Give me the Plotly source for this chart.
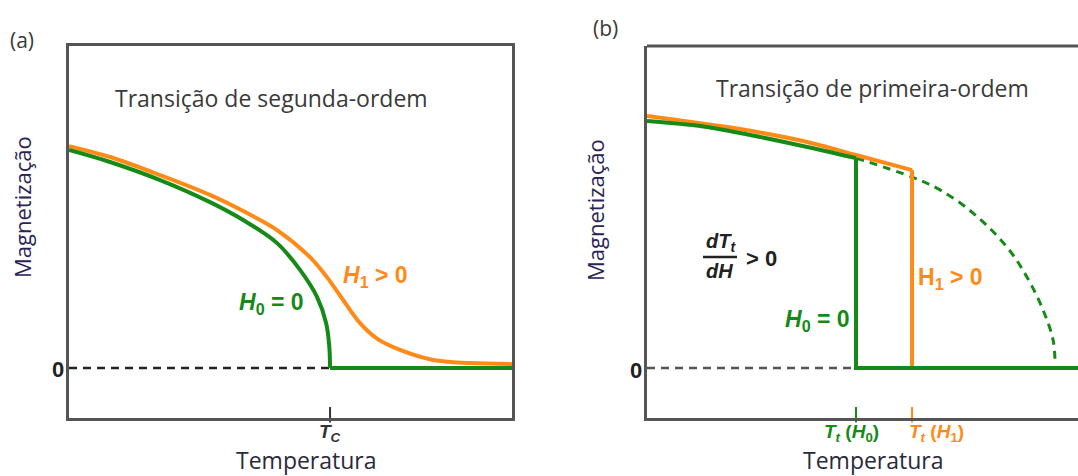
import plotly.graph_objects as go

W, H = 1078, 476

# ---- data: panel (a) second-order transition (T in units of Tc) ----
a_h0_T = [0.0, 0.157, 0.349, 0.540, 0.667, 0.797, 0.885, 0.950, 0.985, 0.997, 1.0]
a_h0_M = [1.0, 0.945, 0.862, 0.761, 0.679, 0.573, 0.450, 0.326, 0.206, 0.100, 0.0]
a_h0_tail_T = [1.0, 1.697]
a_h0_tail_M = [0.0, 0.0]
a_h1_T = [0.0, 0.157, 0.349, 0.540, 0.667, 0.797, 0.923, 0.988, 1.050, 1.115,
          1.180, 1.268, 1.395, 1.536, 1.697]
a_h1_M = [1.018, 0.968, 0.885, 0.794, 0.720, 0.633, 0.509, 0.417, 0.312, 0.206,
          0.135, 0.083, 0.037, 0.023, 0.018]
a_zero_T = [0.0, 1.0]
a_zero_M = [0.0, 0.0]
a_ticks_T = [1.0]

# ---- data: panel (b) first-order transition (T in units of Tt(H0)) ----
b_h0_T = [0.0, 0.254, 0.445, 0.766, 1.0]
b_h0_M = [1.133, 1.110, 1.078, 1.014, 0.963]
b_h0_jump_T = [1.0, 1.0, 2.062]
b_h0_jump_M = [0.963, 0.0, 0.0]
b_h1_T = [0.0, 0.445, 0.766, 1.0, 1.268]
b_h1_M = [1.156, 1.096, 1.037, 0.977, 0.908]
b_h1_jump_T = [1.268, 1.268]
b_h1_jump_M = [0.908, 0.0]
b_meta_T = [1.0, 1.268, 1.402, 1.560, 1.722, 1.818, 1.895, 1.943, 1.952]
b_meta_M = [0.963, 0.876, 0.817, 0.711, 0.555, 0.417, 0.266, 0.128, 0.028]
b_zero_T = [0.0, 1.0]
b_zero_M = [0.0, 0.0]
b_ticks_T = [1.0, 1.268]

GREEN = "#168a16"
ORANGE = "#ff8a17"
FRAME = "#555555"
TXT = "#3a3a3a"
YRANGE = [-0.229, 1.477]
TICK_Y = YRANGE[0] + 0.015  # short marks sit mostly above the bottom edge


def px(x):
    return x / W


def py(y):
    return 1 - y / H


fig = go.Figure()

# panel (a)
fig.add_trace(go.Scatter(x=a_zero_T, y=a_zero_M, mode="lines", xaxis="x", yaxis="y",
                         line=dict(color="#222222", width=2.5, dash="8px,6px")))
fig.add_trace(go.Scatter(x=a_h1_T, y=a_h1_M, mode="lines", xaxis="x", yaxis="y",
                         line=dict(color=ORANGE, width=4, shape="spline", smoothing=1.0)))
fig.add_trace(go.Scatter(x=a_h0_T, y=a_h0_M, mode="lines", xaxis="x", yaxis="y",
                         line=dict(color=GREEN, width=4, shape="spline", smoothing=1.0)))
fig.add_trace(go.Scatter(x=a_h0_tail_T, y=a_h0_tail_M, mode="lines", xaxis="x", yaxis="y",
                         line=dict(color=GREEN, width=4)))
fig.add_trace(go.Scatter(x=a_ticks_T, y=[TICK_Y] * len(a_ticks_T), mode="markers",
                         xaxis="x", yaxis="y", cliponaxis=False,
                         marker=dict(symbol="line-ns", size=11,
                                     line=dict(color="#333333", width=2))))

# panel (b)
fig.add_trace(go.Scatter(x=b_zero_T, y=b_zero_M, mode="lines", xaxis="x2", yaxis="y2",
                         line=dict(color="#555555", width=2.5, dash="8px,6px")))
fig.add_trace(go.Scatter(x=b_meta_T, y=b_meta_M, mode="lines", xaxis="x2", yaxis="y2",
                         line=dict(color=GREEN, width=3, dash="8px,6px",
                                   shape="spline", smoothing=1.0)))
fig.add_trace(go.Scatter(x=b_h1_T, y=b_h1_M, mode="lines", xaxis="x2", yaxis="y2",
                         line=dict(color=ORANGE, width=4, shape="spline", smoothing=0.8)))
fig.add_trace(go.Scatter(x=b_h1_jump_T, y=b_h1_jump_M, mode="lines", xaxis="x2", yaxis="y2",
                         line=dict(color=ORANGE, width=4)))
fig.add_trace(go.Scatter(x=b_h0_T, y=b_h0_M, mode="lines", xaxis="x2", yaxis="y2",
                         line=dict(color=GREEN, width=4, shape="spline", smoothing=0.8)))
fig.add_trace(go.Scatter(x=b_h0_jump_T, y=b_h0_jump_M, mode="lines", xaxis="x2", yaxis="y2",
                         line=dict(color=GREEN, width=4)))
fig.add_trace(go.Scatter(x=b_ticks_T, y=[TICK_Y] * len(b_ticks_T), mode="markers",
                         xaxis="x2", yaxis="y2", cliponaxis=False,
                         marker=dict(symbol="line-ns", size=11,
                                     line=dict(color=[GREEN, ORANGE], width=2))))

axis_common = dict(showgrid=False, zeroline=False, showticklabels=False, ticks="",
                   showline=True, linecolor=FRAME, linewidth=3, fixedrange=True)
ydom = [py(418), py(46)]

fig.update_layout(
    width=W, height=H,
    margin=dict(l=0, r=0, t=0, b=0),
    paper_bgcolor="white", plot_bgcolor="white",
    showlegend=False,
    font=dict(family="Open Sans", color=TXT),
    xaxis=dict(domain=[px(69), px(512)], range=[0, 1.697], anchor="y", mirror=True, **axis_common),
    yaxis=dict(domain=ydom, range=YRANGE, anchor="x", mirror=True, **axis_common),
    xaxis2=dict(domain=[px(647), 1.0], range=[0, 2.062], anchor="y2", **axis_common),
    yaxis2=dict(domain=ydom, range=YRANGE, anchor="x2", **axis_common),
)

# top edge of panel (b), which runs off the right side
fig.add_shape(type="line", xref="x2 domain", yref="y2 domain", x0=0, x1=1, y0=1, y1=1,
              line=dict(color=FRAME, width=3))
# fraction bar of dTt/dH
fig.add_shape(type="line", xref="paper", yref="paper", x0=px(703), x1=px(737),
              y0=py(257), y1=py(257), line=dict(color="#222222", width=2.5))

BOLD = "Liberation Sans"


def note(text, x, y, size, color=TXT, family="Open Sans", angle=0, xanchor="center"):
    fig.add_annotation(text=text, x=px(x), y=py(y), xref="paper", yref="paper",
                       showarrow=False, xanchor=xanchor, yanchor="middle", textangle=angle,
                       font=dict(size=size, color=color, family=family))


# panel tags and titles
note("(a)", 22, 40, 21)
note("(b)", 605, 28, 21)
note("Transição de segunda-ordem", 271, 98, 23)
note("Transição de primeira-ordem", 872, 88, 23)

# axis titles
note("Magnetização", 22, 207, 22, color="#2a2456", angle=-90)
note("Magnetização", 595, 210, 22, color="#2a2456", angle=-90)
note("Temperatura", 306, 460, 23, color="#2a2a3a")
note("Temperatura", 873, 460, 23, color="#2a2a3a")

# zero labels
note("<b>0</b>", 58, 369, 22, color="#222222", family=BOLD)
note("<b>0</b>", 636, 370, 22, color="#222222", family=BOLD)

# temperature markers
note("<b><i>T<sub>C</sub></i></b>", 330, 433, 19, color="#333333", family=BOLD)
note("<b><i>T<sub>t</sub></i> (<i>H</i><sub>0</sub>)</b>", 851, 433, 19, color=GREEN, family=BOLD)
note("<b><i>T<sub>t</sub></i> (<i>H</i><sub>1</sub>)</b>", 936, 433, 19, color=ORANGE, family=BOLD)

# curve labels, panel (a)
note("<b><i>H</i><sub>0</sub> = 0</b>", 271, 303, 23, color=GREEN, family=BOLD)
note("<b><i>H</i><sub>1</sub> > 0</b>", 376, 276, 23, color=ORANGE, family=BOLD)

# curve labels, panel (b)
note("<b><i>H</i><sub>0</sub> = 0</b>", 817, 320, 23, color=GREEN, family=BOLD)
note("<b>H<sub>1</sub> > 0</b>", 950, 278, 23, color=ORANGE, family=BOLD)
note("<b><i>dT<sub>t</sub></i></b>", 721, 243, 20, color="#222222", family=BOLD)
note("<b><i>dH</i></b>", 719, 271, 20, color="#222222", family=BOLD)
note("<b>> 0</b>", 761, 258, 22, color="#222222", family=BOLD)

fig.write_html("out.html")
